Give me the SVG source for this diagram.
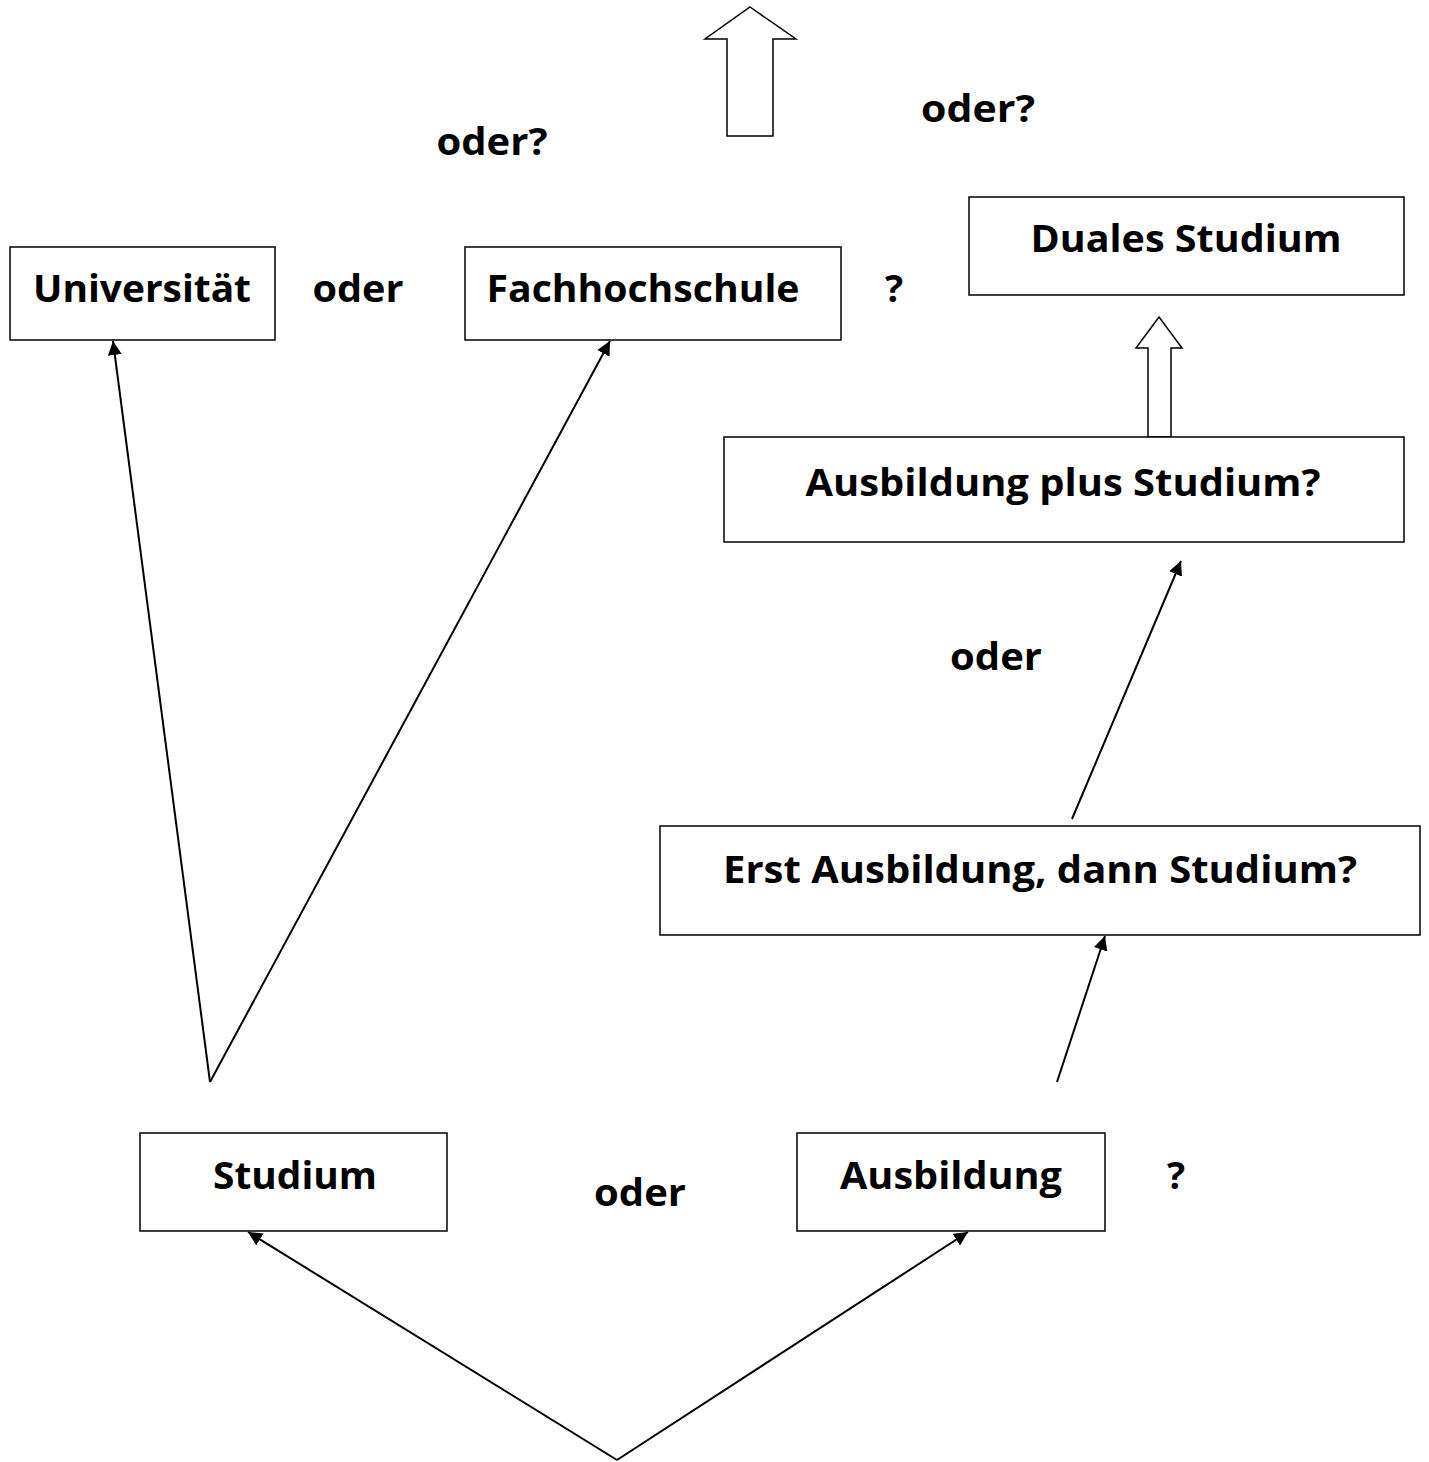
<svg xmlns="http://www.w3.org/2000/svg" width="1429" height="1462" viewBox="0 0 1429 1462">
<defs>
<marker id="ahb" viewBox="0 0 14 14" refX="14" refY="7" markerWidth="14" markerHeight="14" markerUnits="userSpaceOnUse" orient="auto">
<path d="M0,0 L14,7 L0,14 z" fill="#000"/>
</marker>
</defs>
<style>
.box{fill:#fff;stroke:#000;stroke-width:1.5}
.t{font-family:"Open Sans","Liberation Sans",sans-serif;font-weight:bold;font-size:38px;fill:#000;text-anchor:middle}
.c{stroke:#000;stroke-width:2;fill:none}
.big{fill:#fff;stroke:#000;stroke-width:1.5}
</style>
<rect width="1429" height="1462" fill="#fff"/>
<g id="connectors">
<line class="c" x1="210" y1="1082" x2="113" y2="341" marker-end="url(#ahb)"/>
<line class="c" x1="210" y1="1082" x2="610" y2="341" marker-end="url(#ahb)"/>
<line class="c" x1="1072" y1="819" x2="1181" y2="561" marker-end="url(#ahb)"/>
<line class="c" x1="1057" y1="1082" x2="1105" y2="936" marker-end="url(#ahb)"/>
<line class="c" x1="617" y1="1460" x2="248" y2="1232" marker-end="url(#ahb)"/>
<line class="c" x1="617" y1="1460" x2="968" y2="1232" marker-end="url(#ahb)"/>
<polygon class="big" points="750,7 796,39 773,39 773,136 727,136 727,39 705,39"/>
<polygon class="big" points="1159,317 1182,348 1171,348 1171,437 1148,437 1148,348 1136,348"/>
</g>
<g id="universitaet"><rect class="box" x="10" y="247" width="265" height="93"/><text class="t" x="142" y="302" textLength="218" lengthAdjust="spacingAndGlyphs">Universität</text></g>
<g id="fachhochschule"><rect class="box" x="465" y="247" width="376" height="93"/><text class="t" x="643" y="302" textLength="313" lengthAdjust="spacingAndGlyphs">Fachhochschule</text></g>
<g id="duales"><rect class="box" x="969" y="197" width="435" height="98"/><text class="t" x="1186" y="252" textLength="311" lengthAdjust="spacingAndGlyphs">Duales Studium</text></g>
<g id="ausbildungplus"><rect class="box" x="724" y="437" width="680" height="105"/><text class="t" x="1063" y="496" textLength="515" lengthAdjust="spacingAndGlyphs">Ausbildung plus Studium?</text></g>
<g id="erst"><rect class="box" x="660" y="826" width="760" height="109"/><text class="t" x="1040" y="883" textLength="634" lengthAdjust="spacingAndGlyphs">Erst Ausbildung, dann Studium?</text></g>
<g id="studium"><rect class="box" x="140" y="1133" width="307" height="98"/><text class="t" x="295" y="1189" textLength="164" lengthAdjust="spacingAndGlyphs">Studium</text></g>
<g id="ausbildung"><rect class="box" x="797" y="1133" width="308" height="98"/><text class="t" x="951" y="1189" textLength="222" lengthAdjust="spacingAndGlyphs">Ausbildung</text></g>
<g id="labels">
<text class="t" x="492" y="155" textLength="111" lengthAdjust="spacingAndGlyphs">oder?</text>
<text class="t" x="978" y="122" textLength="114" lengthAdjust="spacingAndGlyphs">oder?</text>
<text class="t" x="358" y="302" textLength="91" lengthAdjust="spacingAndGlyphs">oder</text>
<text class="t" x="894" y="302">?</text>
<text class="t" x="996" y="670" textLength="92" lengthAdjust="spacingAndGlyphs">oder</text>
<text class="t" x="640" y="1206" textLength="92" lengthAdjust="spacingAndGlyphs">oder</text>
<text class="t" x="1176" y="1189">?</text>
</g>
</svg>
